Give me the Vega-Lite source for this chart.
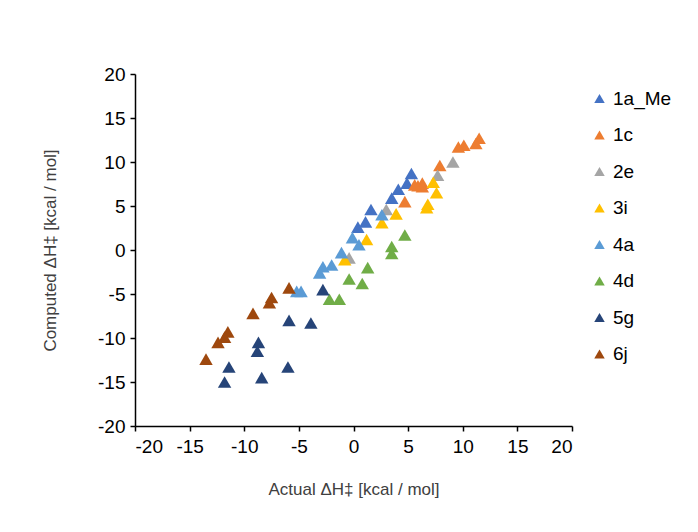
{
  "$schema": "https://vega.github.io/schema/vega-lite/v6.json",
  "autosize": "none",
  "width": 437,
  "height": 352,
  "padding": {"left": 135, "top": 74, "right": 126, "bottom": 106},
  "background": "white",
  "config": {
    "view": {"stroke": null},
    "font": "Liberation Sans",
    "axis": {"grid": false, "domainColor": "#000000", "domainWidth": 1.5, "tickColor": "#000000", "tickWidth": 1.5, "tickSize": 5, "labelFont": "Liberation Sans", "labelFontSize": 19, "labelColor": "#000000", "labelExpr": "toString(datum.value)", "titleFont": "Liberation Sans", "titleFontSize": 17, "titleFontWeight": "normal", "titleColor": "#404040"}
  },
  "data": {
    "values": [
      {"series": "1a_Me", "actual": 5.3, "computed": 8.7},
      {"series": "1a_Me", "actual": 4.9, "computed": 7.6},
      {"series": "1a_Me", "actual": 4.1, "computed": 6.9},
      {"series": "1a_Me", "actual": 3.5, "computed": 5.9},
      {"series": "1a_Me", "actual": 1.6, "computed": 4.6},
      {"series": "1a_Me", "actual": 1.1, "computed": 3.2},
      {"series": "1a_Me", "actual": 0.4, "computed": 2.6},
      {"series": "1c", "actual": 11.5, "computed": 12.7},
      {"series": "1c", "actual": 11.2, "computed": 12.1},
      {"series": "1c", "actual": 10.1, "computed": 11.9},
      {"series": "1c", "actual": 9.6, "computed": 11.7},
      {"series": "1c", "actual": 7.9, "computed": 9.6},
      {"series": "1c", "actual": 6.3, "computed": 7.6},
      {"series": "1c", "actual": 5.9, "computed": 7.3},
      {"series": "1c", "actual": 6.3, "computed": 7.2},
      {"series": "1c", "actual": 5.6, "computed": 7.4},
      {"series": "1c", "actual": 4.7, "computed": 5.5},
      {"series": "2e", "actual": 9.1, "computed": 10.0},
      {"series": "2e", "actual": 7.7, "computed": 8.5},
      {"series": "2e", "actual": 3.0, "computed": 4.6},
      {"series": "2e", "actual": -0.4, "computed": -0.9},
      {"series": "3i", "actual": 7.3, "computed": 7.7},
      {"series": "3i", "actual": 7.6, "computed": 6.5},
      {"series": "3i", "actual": 6.8, "computed": 5.2},
      {"series": "3i", "actual": 6.7, "computed": 4.8},
      {"series": "3i", "actual": 3.9, "computed": 4.1},
      {"series": "3i", "actual": 2.6, "computed": 3.1},
      {"series": "3i", "actual": 1.2, "computed": 1.2},
      {"series": "3i", "actual": -0.8, "computed": -1.1},
      {"series": "4a", "actual": 2.6, "computed": 4.0},
      {"series": "4a", "actual": -0.1, "computed": 1.4},
      {"series": "4a", "actual": 0.5, "computed": 0.6},
      {"series": "4a", "actual": -1.1, "computed": -0.3},
      {"series": "4a", "actual": -2.0, "computed": -1.7},
      {"series": "4a", "actual": -2.8, "computed": -1.9},
      {"series": "4a", "actual": -3.1, "computed": -2.6},
      {"series": "4a", "actual": -4.8, "computed": -4.7},
      {"series": "4a", "actual": -5.2, "computed": -4.7},
      {"series": "4d", "actual": 4.7, "computed": 1.7},
      {"series": "4d", "actual": 3.5, "computed": 0.4},
      {"series": "4d", "actual": 3.5, "computed": -0.4},
      {"series": "4d", "actual": 1.3, "computed": -2.0},
      {"series": "4d", "actual": -0.4, "computed": -3.3},
      {"series": "4d", "actual": 0.8, "computed": -3.8},
      {"series": "4d", "actual": -1.3, "computed": -5.6},
      {"series": "4d", "actual": -2.2, "computed": -5.6},
      {"series": "5g", "actual": -2.8, "computed": -4.5},
      {"series": "5g", "actual": -5.9, "computed": -8.0},
      {"series": "5g", "actual": -3.9, "computed": -8.3},
      {"series": "5g", "actual": -8.7, "computed": -10.5},
      {"series": "5g", "actual": -8.8, "computed": -11.5},
      {"series": "5g", "actual": -11.4, "computed": -13.3},
      {"series": "5g", "actual": -6.0, "computed": -13.3},
      {"series": "5g", "actual": -8.4, "computed": -14.5},
      {"series": "5g", "actual": -11.8, "computed": -15.0},
      {"series": "6j", "actual": -5.9, "computed": -4.3},
      {"series": "6j", "actual": -7.5, "computed": -5.4},
      {"series": "6j", "actual": -7.7, "computed": -6.0},
      {"series": "6j", "actual": -9.2, "computed": -7.2},
      {"series": "6j", "actual": -11.5, "computed": -9.3},
      {"series": "6j", "actual": -11.8, "computed": -9.9},
      {"series": "6j", "actual": -12.4, "computed": -10.5},
      {"series": "6j", "actual": -13.5, "computed": -12.4}
    ]
  },
  "mark": {"type": "point", "shape": "triangle-up", "filled": true, "size": 180, "opacity": 1, "strokeWidth": 0},
  "encoding": {
    "x": {"field": "actual", "type": "quantitative", "scale": {"domain": [-20, 20], "nice": false, "zero": false}, "axis": {"values": [-20, -15, -10, -5, 0, 5, 10, 15, 20], "title": "Actual ΔH‡ [kcal / mol]", "labelPadding": 6, "titlePadding": 25}},
    "y": {"field": "computed", "type": "quantitative", "scale": {"domain": [-20, 20], "nice": false, "zero": false}, "axis": {"values": [-20, -15, -10, -5, 0, 5, 10, 15, 20], "title": "Computed   ΔH‡ [kcal / mol]", "labelPadding": 5, "titlePadding": 38}},
    "color": {"field": "series", "type": "nominal", "scale": {"domain": ["1a_Me", "1c", "2e", "3i", "4a", "4d", "5g", "6j"], "range": ["#4472C4", "#ED7D31", "#A5A5A5", "#FFC000", "#5B9BD5", "#70AD47", "#264478", "#9E480E"]},
      "legend": {"title": null, "orient": "none", "legendX": 455, "legendY": 15, "symbolType": "triangle-up", "symbolSize": 110, "symbolStrokeWidth": 0, "labelFontSize": 19, "labelColor": "#000000", "labelFont": "Liberation Sans", "rowPadding": 16.5, "labelOffset": 4}}
  }
}
